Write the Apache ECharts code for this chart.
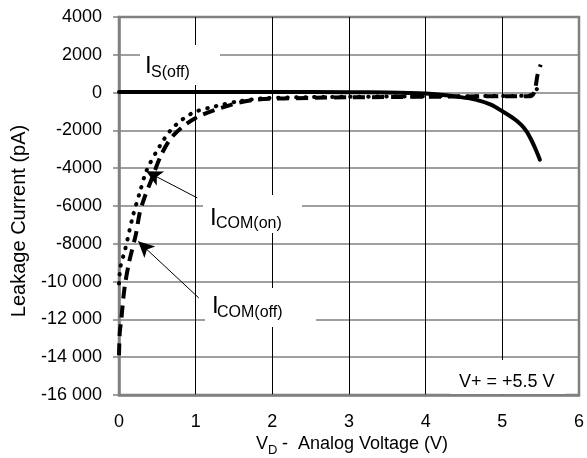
<!DOCTYPE html>
<html><head><meta charset="utf-8">
<script src="https://cdn.jsdelivr.net/npm/echarts@6/dist/echarts.min.js"></script>
<style>html,body{margin:0;padding:0;background:#fff}#c{width:587px;height:458px}</style>
</head><body><div id="c"></div>
<script>
// ---- data (x = analog voltage V, y = leakage current pA) ----
const xTicks = [0, 1, 2, 3, 4, 5, 6];
const yTicks = [-16000, -14000, -12000, -10000, -8000, -6000, -4000, -2000, 0, 2000, 4000];
const isOff = [[0,30],[1,30],[2,30],[3,20],[3.5,0],[4,-50],[4.2,-110],[4.4,-210],[4.65,-370],[4.85,-640],[5.0,-990],[5.15,-1380],[5.25,-1720],[5.32,-2080],[5.38,-2520],[5.44,-3050],[5.49,-3550]];
const icomOn = [[0,-10100],[0.02,-9200],[0.08,-8300],[0.18,-6550],[0.27,-5300],[0.36,-4120],[0.53,-2840],[0.70,-1870],[0.96,-1075],[1.26,-725],[1.56,-460],[1.9,-300],[2.5,-240],[3,-220],[3.5,-210],[4,-200],[4.5,-190],[5,-180],[5.35,-160],[5.45,190]];
const icomOff = [[0,-13900],[0.01,-12700],[0.03,-12000],[0.07,-10400],[0.13,-9000],[0.22,-7500],[0.27,-6370],[0.33,-5580],[0.44,-4430],[0.55,-3300],[0.70,-2300],[1.0,-1340],[1.47,-635],[1.81,-370],[2.5,-280],[3,-250],[4,-220],[5,-190],[5.37,-190],[5.42,60],[5.46,950],[5.5,1480]];
const arrowOn = [[1.02,-5570],[0.355,-4164]];
const arrowOff = [[1.04,-10860],[0.25,-7870]];

function fmt(v){
  const a = Math.abs(v);
  let s = String(a);
  if (a >= 10000) s = s.slice(0, s.length-3) + ' ' + s.slice(-3);
  return (v < 0 ? '-' : '') + s;
}

const chart = echarts.init(document.getElementById('c'), null, {renderer:'canvas'});
const F = 'Liberation Sans, Arial, sans-serif';
function txt(t, x, y, size){
  return {type:'text', z:110, style:{text:t, x:x, y:y, font: size+'px '+F, fill:'#000', textVerticalAlign:'middle'}};
}
function box(x,y,w,h){
  return {type:'rect', z:100, shape:{x:x,y:y,width:w,height:h}, style:{fill:'#fff'}};
}

chart.setOption({
  animation:false,
  backgroundColor:'#fff',
  grid:{left:119, right:2, top:17, bottom:63, show:true, borderColor:'#808080', borderWidth:2.5},
  xAxis:{type:'value', min:0, max:6, interval:1,
    axisLine:{show:true, onZero:false, lineStyle:{color:'#808080', width:2.5}},
    axisTick:{show:false},
    axisLabel:{color:'#000', fontSize:18, fontFamily:F, margin:18, formatter:v=>String(v)},
    splitLine:{show:true, showMinLine:false, showMaxLine:false, lineStyle:{color:'#000', width:1}}
  },
  yAxis:{type:'value', min:-16000, max:4000, interval:2000,
    axisLine:{show:true, onZero:false, lineStyle:{color:'#808080', width:2.5}},
    axisTick:{show:true, length:6, lineStyle:{color:'#808080', width:1.5}},
    axisLabel:{color:'#000', fontSize:18, fontFamily:F, margin:17, formatter:fmt},
    splitLine:{show:true, showMinLine:false, showMaxLine:false, lineStyle:{color:'#808080', width:1.5}}
  },
  series:[
    {name:'IS(off)', type:'line', data:isOff, showSymbol:false, smooth:0.3, z:5,
     lineStyle:{color:'#000', width:4, type:'solid', cap:'round'}},
    {name:'ICOM(on)', type:'line', data:icomOn, showSymbol:false, smooth:0.3, z:4,
     lineStyle:{color:'#000', width:4, type:[0.5,8.5], cap:'round'}},
    {name:'ICOM(off)', type:'line', data:icomOff, showSymbol:false, smooth:0.3, z:4,
     lineStyle:{color:'#000', width:4, type:[12,7], cap:'butt'},
     markLine:{silent:true, symbol:['none','arrow'], symbolSize:[12,16], label:{show:false},
       lineStyle:{color:'#000', width:1, type:'solid'},
       data:[
         [{coord:arrowOn[0]},{coord:arrowOn[1]}],
         [{coord:arrowOff[0]},{coord:arrowOff[1]}]
       ]}}
  ],
  graphic:[
    box(140,45,80,40),
    box(203,195,99,38),
    box(205,288,111,39),
    box(450,360,115,34),
    txt('I',145,66,24),
    txt('S(off)',151,73,16),
    txt('I',210,218,24),
    txt('COM(on)',216,224,16),
    txt('I',212,306,24),
    txt('COM(off)',217,313,16),
    txt('V+ = +5.5 V',459,382,18),
    txt('V',256,444,18),
    txt('D',268,450,13),
    txt('-  Analog Voltage (V)',282,444,18),
    {type:'text', z:110, x:19, y:221, rotation:Math.PI/2,
     style:{text:'Leakage Current (pA)', x:0, y:0, font:'20px '+F, fill:'#000', textAlign:'center', textVerticalAlign:'middle'}}
  ]
});
</script></body></html>
